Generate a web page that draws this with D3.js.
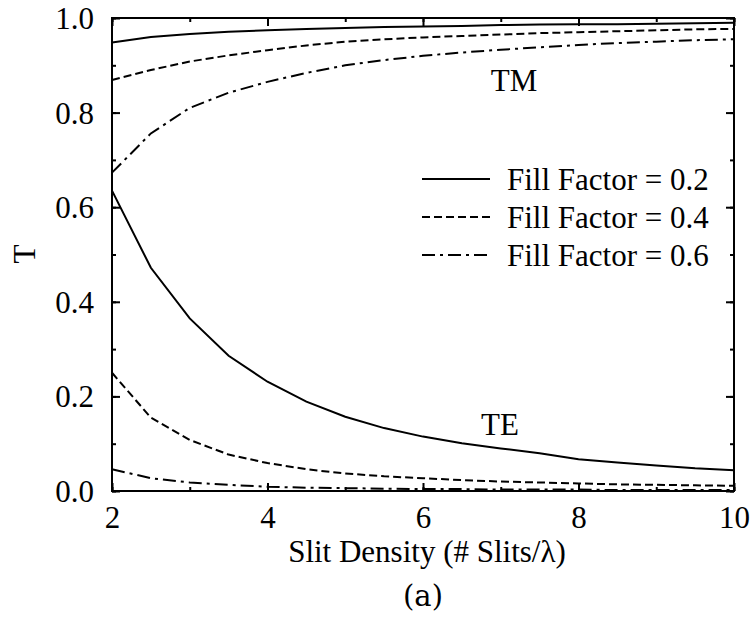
<!DOCTYPE html>
<html><head><meta charset="utf-8">
<script src="https://cdn.jsdelivr.net/npm/d3@7"></script>
</head><body style="margin:0;background:#fff"><svg id="c" width="751" height="631" style="display:block;font-family:'Liberation Serif',serif"></svg>
<script>
const slitDensity = [2,2.5,3,3.5,4,4.5,5,5.5,6,6.5,7,7.5,8,8.5,9,9.5,10];
const tmFill02 = [0.948,0.960,0.966,0.971,0.974,0.977,0.979,0.981,0.982,0.983,0.985,0.986,0.987,0.987,0.988,0.989,0.990];
const tmFill04 = [0.869,0.890,0.908,0.921,0.932,0.942,0.950,0.955,0.959,0.962,0.965,0.968,0.970,0.972,0.974,0.976,0.977];
const tmFill06 = [0.673,0.756,0.810,0.842,0.865,0.884,0.900,0.911,0.920,0.927,0.933,0.938,0.943,0.947,0.950,0.953,0.955];
const teFill02 = [0.635,0.472,0.365,0.286,0.231,0.189,0.157,0.133,0.115,0.101,0.090,0.080,0.067,0.060,0.054,0.048,0.044];
const teFill04 = [0.250,0.155,0.108,0.077,0.059,0.046,0.037,0.031,0.027,0.023,0.020,0.018,0.016,0.014,0.013,0.012,0.011];
const teFill06 = [0.046,0.027,0.018,0.013,0.009,0.007,0.006,0.005,0.004,0.004,0.003,0.003,0.003,0.002,0.002,0.002,0.002];
const legendLabels = ["Fill Factor = 0.2","Fill Factor = 0.4","Fill Factor = 0.6"];
const xTicks = [2,4,6,8,10];
const yTicks = [0.0,0.2,0.4,0.6,0.8,1.0];

const FONT = "Liberation Serif";
const dashes = [null, "8,4", "13,5,3,5"];
const svg = d3.select("#c");
const x = d3.scaleLinear().domain([2,10]).range([112,734]);
const y = d3.scaleLinear().domain([0,1]).range([491,18]);
const FS = 31;

const minorX = d3.range(2,10.01,1);
const minorY = d3.range(0,1.001,0.1);

function addAxis(axis, tf, vals, len, labels){
  const g = svg.append("g").attr("transform", tf).call(axis.tickValues(vals).tickSize(len).tickFormat(labels ? null : ""));
  g.attr("font-family", FONT);
  g.select(".domain").remove();
  g.selectAll(".tick line").attr("stroke","#000").attr("stroke-width",2);
  return g;
}
addAxis(d3.axisBottom(x), `translate(0,${y(0)})`, minorX, -4, false);
addAxis(d3.axisTop(x), `translate(0,${y(1)})`, minorX, -4, false);
addAxis(d3.axisLeft(y), `translate(${x(2)},0)`, minorY, -4, false);
addAxis(d3.axisRight(y), `translate(${x(10)},0)`, minorY, -4, false);
const gx = addAxis(d3.axisBottom(x), `translate(0,${y(0)})`, xTicks, -8, true);
gx.selectAll("text").attr("font-size",FS).attr("font-family",FONT).attr("fill","#000")
  .attr("y",null).attr("dy",null).attr("transform","translate(0,37)");
addAxis(d3.axisTop(x), `translate(0,${y(1)})`, xTicks, -8, false);
const gy = addAxis(d3.axisLeft(y), `translate(${x(2)},0)`, yTicks, -8, true);
gy.selectAll("text").text(d=>d3.format(".1f")(d)).attr("font-size",FS).attr("font-family",FONT).attr("fill","#000")
  .attr("x",-18).attr("dy","0.34em");
addAxis(d3.axisRight(y), `translate(${x(10)},0)`, yTicks, -8, false);

svg.append("rect").attr("x",x(2)).attr("y",y(1)).attr("width",x(10)-x(2)).attr("height",y(0)-y(1))
  .attr("fill","none").attr("stroke","#000").attr("stroke-width",2);

const line = d3.line().x((d,i)=>x(slitDensity[i])).y(d=>y(d));
const series = [[tmFill02,0],[tmFill04,1],[tmFill06,2],[teFill02,0],[teFill04,1],[teFill06,2]];
series.forEach(([vals,k])=>{
  svg.append("path").datum(vals).attr("d",line).attr("fill","none").attr("stroke","#000")
    .attr("stroke-width",2).attr("stroke-dasharray",dashes[k]);
});

function txt(xp, yp, s, anchor){
  return svg.append("text").attr("x",xp).attr("y",yp).attr("text-anchor",anchor||"start")
    .attr("font-size",FS).attr("font-family",FONT).attr("fill","#000").text(s);
}
txt(514,91,"TM","middle");
txt(500,435,"TE","middle");

const legY = [179,217,255];
legendLabels.forEach((t,i)=>{
  svg.append("line").attr("x1",422).attr("x2",490).attr("y1",legY[i]).attr("y2",legY[i])
    .attr("stroke","#000").attr("stroke-width",2).attr("stroke-dasharray",dashes[i]);
  txt(507,legY[i],t).attr("dy","0.34em");
});

txt(427,562,"Slit Density (# Slits/λ)","middle");
txt(423,606,"(a)","middle").attr("font-family","DejaVu Serif").attr("font-size",29);
svg.append("text").attr("transform","translate(35,254) rotate(-90)").attr("text-anchor","middle")
  .attr("font-size",FS).attr("font-family",FONT).attr("fill","#000").text("T");
</script></body></html>
